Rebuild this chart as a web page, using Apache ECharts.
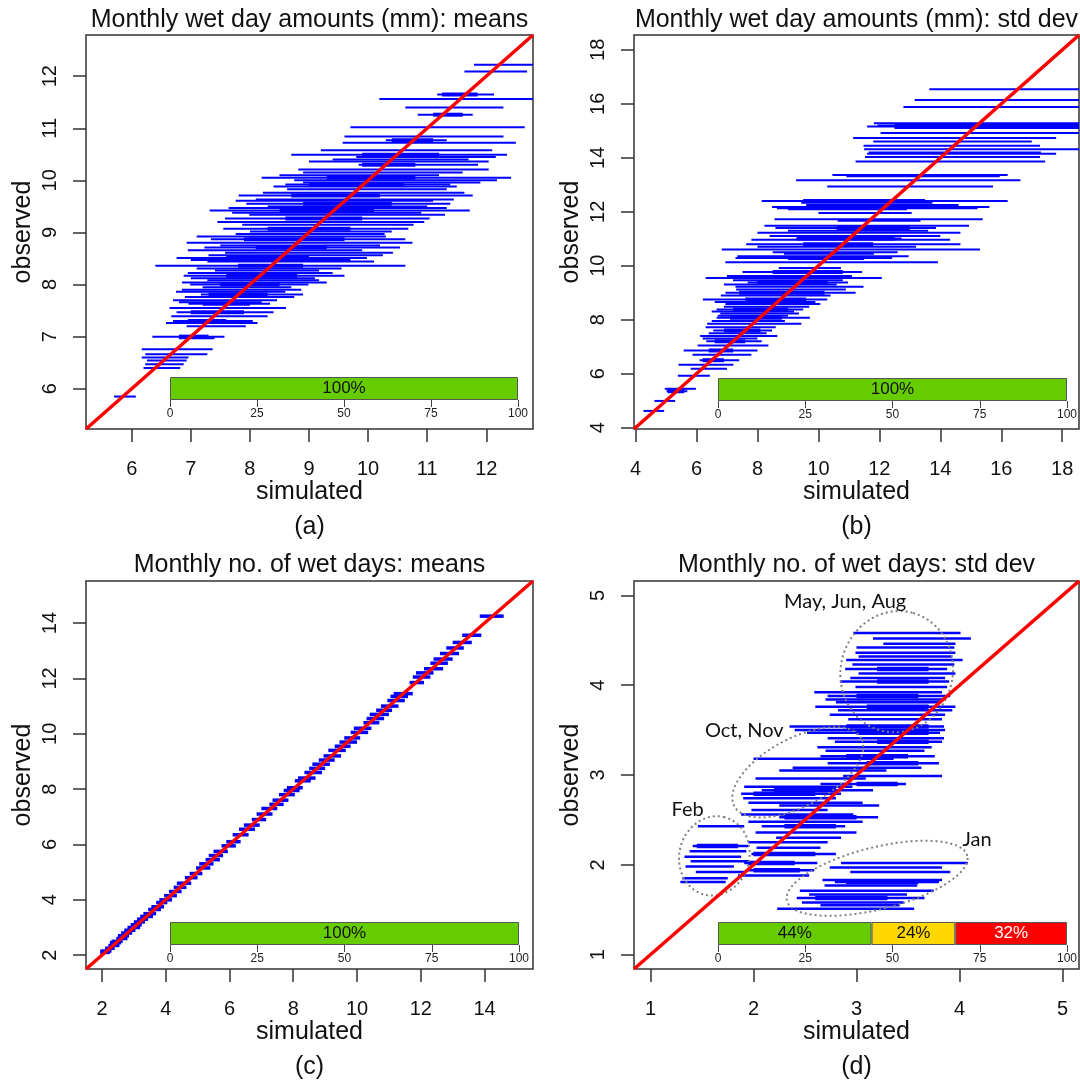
<!DOCTYPE html>
<html>
<head>
<meta charset="utf-8">
<script src="https://cdn.jsdelivr.net/npm/echarts@6/dist/echarts.min.js"></script>
<style>
  html, body { margin: 0; padding: 0; background: #fff; }
  #chart { width: 1080px; height: 1087px; }
</style>
</head>
<body>
<div id="chart"></div>
<script>
// each bar: [observed, simulated low, simulated high]
var barsA = [
  [12.22, 11.79, 13.0], [12.09, 11.63, 12.69], [11.65, 11.17, 12.13], [11.56, 10.19, 12.95],
  [11.40, 10.63, 12.29], [11.26, 10.84, 11.77], [11.02, 9.70, 12.65], [10.84, 9.60, 12.29],
  [10.77, 10.30, 11.33], [10.72, 9.57, 12.50], [10.58, 9.20, 12.10], [10.49, 8.70, 12.35],
  [10.45, 9.80, 12.16], [10.40, 9.40, 11.70], [10.36, 9.00, 12.04], [10.30, 9.84, 11.86],
  [10.21, 8.82, 12.04], [10.15, 8.90, 11.60], [10.10, 8.50, 11.20], [10.05, 8.20, 12.42],
  [10.00, 8.75, 12.18], [9.96, 8.90, 11.90], [9.92, 8.60, 11.39], [9.88, 8.40, 11.50],
  [9.83, 8.63, 11.33], [9.76, 8.22, 11.63], [9.71, 7.81, 11.77], [9.63, 8.10, 11.45],
  [9.61, 7.76, 11.10], [9.55, 7.94, 11.39], [9.50, 8.30, 11.00], [9.47, 7.64, 11.33],
  [9.42, 7.32, 11.72], [9.38, 7.70, 10.90], [9.34, 7.99, 11.30], [9.27, 7.58, 11.04],
  [9.20, 7.45, 10.95], [9.15, 7.87, 10.77], [9.07, 7.55, 10.68], [9.02, 8.00, 10.40],
  [8.97, 7.76, 10.28], [8.92, 7.10, 10.30], [8.87, 7.34, 10.63], [8.80, 6.93, 10.75],
  [8.75, 7.50, 10.20], [8.71, 7.23, 10.54], [8.66, 6.95, 9.90], [8.61, 7.58, 10.42],
  [8.56, 7.30, 10.25], [8.51, 6.76, 9.98], [8.47, 7.00, 9.70], [8.44, 7.28, 10.10],
  [8.36, 6.40, 10.63], [8.31, 7.10, 9.55], [8.27, 7.41, 9.17], [8.22, 6.95, 9.40],
  [8.17, 6.88, 9.60], [8.12, 7.00, 9.10], [8.08, 7.28, 9.17], [8.04, 6.85, 9.30],
  [8.00, 6.99, 8.99], [7.95, 7.20, 8.70], [7.90, 6.85, 8.87], [7.86, 6.75, 8.60],
  [7.81, 7.17, 8.90], [7.76, 6.90, 8.75], [7.70, 6.70, 8.46], [7.66, 6.80, 8.20],
  [7.63, 6.96, 8.34], [7.55, 6.64, 8.61], [7.47, 6.76, 8.40], [7.39, 6.67, 8.30],
  [7.30, 6.70, 8.05], [7.26, 6.58, 8.13], [7.20, 6.93, 7.93], [7.00, 6.35, 7.57],
  [6.97, 6.80, 7.40], [6.76, 6.17, 7.37], [6.66, 6.23, 7.28], [6.60, 6.17, 6.96],
  [6.54, 6.26, 6.93], [6.47, 6.23, 6.88], [6.40, 6.20, 6.82], [5.85, 5.70, 6.07]
];
// thicker inner ranges
var coreA = [
  [11.65, 11.25, 11.85], [11.26, 11.1, 11.6], [10.77, 10.4, 11.1], [10.49, 9.9, 11.2],
  [10.30, 9.9, 10.8], [10.05, 9.3, 10.8], [9.92, 9.0, 10.6], [9.71, 8.7, 10.2],
  [9.55, 8.9, 10.4], [9.42, 8.5, 10.1], [9.27, 8.6, 9.9], [9.07, 8.3, 9.7],
  [8.87, 7.9, 9.6], [8.71, 8.1, 9.3], [8.51, 7.6, 9.0], [8.36, 7.8, 8.9],
  [8.17, 7.6, 8.8], [8.00, 7.5, 8.5], [7.81, 7.3, 8.3], [7.63, 7.2, 8.0],
  [7.47, 7.0, 7.9], [7.30, 6.95, 7.6], [7.00, 6.8, 7.3]
];

var barsB = [
  [16.54, 13.64, 19.5], [16.14, 13.16, 19.5], [15.88, 12.79, 19.5], [15.28, 11.82, 19.5],
  [15.20, 11.94, 19.5], [15.16, 11.60, 19.5], [15.10, 12.50, 19.5], [14.92, 12.04, 19.5],
  [14.73, 11.14, 17.80], [14.60, 11.80, 17.00], [14.45, 11.48, 17.27], [14.32, 11.50, 18.70],
  [14.20, 11.65, 17.30], [14.15, 11.60, 17.80], [14.03, 11.53, 17.27], [13.86, 11.22, 17.44],
  [13.36, 10.46, 16.21], [13.32, 10.92, 15.95], [13.17, 9.27, 16.63], [12.94, 10.29, 15.73],
  [12.40, 8.14, 16.21], [12.33, 9.44, 13.74], [12.25, 9.60, 14.60], [12.18, 8.48, 15.61],
  [12.13, 8.64, 15.22], [11.95, 10.00, 13.06], [11.72, 8.56, 15.39], [11.67, 10.63, 13.35],
  [11.48, 8.23, 14.94], [11.40, 8.59, 13.86], [11.30, 9.00, 13.60], [11.22, 8.00, 14.66],
  [11.10, 8.40, 14.00], [11.01, 9.27, 12.73], [10.96, 7.80, 14.32], [10.80, 7.63, 14.66],
  [10.70, 8.00, 13.20], [10.60, 6.83, 15.30], [10.50, 8.50, 12.60], [10.44, 8.87, 11.82],
  [10.35, 7.34, 12.96], [10.29, 7.28, 12.42], [10.13, 6.95, 13.92], [9.92, 8.70, 10.74],
  [9.77, 7.51, 11.43], [9.62, 7.00, 11.10], [9.55, 6.30, 12.08], [9.46, 7.20, 10.80],
  [9.38, 7.68, 10.97], [9.30, 6.90, 10.60], [9.22, 7.28, 11.48], [9.12, 7.30, 10.90],
  [9.00, 6.95, 11.22], [8.90, 6.80, 10.40], [8.75, 6.21, 10.29], [8.66, 6.60, 9.90],
  [8.58, 6.95, 10.06], [8.48, 6.90, 9.70], [8.38, 6.66, 9.50], [8.30, 6.50, 9.20],
  [8.23, 6.78, 9.36], [8.15, 6.70, 9.00], [8.07, 6.66, 9.72], [7.95, 6.50, 8.90],
  [7.85, 6.35, 9.44], [7.72, 6.30, 8.60], [7.60, 6.55, 8.48], [7.50, 6.40, 8.30],
  [7.40, 6.12, 8.65], [7.30, 6.20, 8.00], [7.20, 6.32, 8.14], [7.04, 6.04, 8.36],
  [6.86, 5.58, 8.00], [6.70, 5.87, 7.80], [6.50, 6.10, 7.40], [6.33, 5.41, 7.21],
  [6.18, 5.81, 7.00], [5.92, 5.39, 6.44], [5.44, 4.96, 5.98], [5.35, 5.02, 5.70],
  [4.99, 4.62, 5.30], [4.62, 4.26, 4.94]
];
var coreB = [
  [15.20, 12.5, 19.5], [12.40, 9.5, 13.5], [12.13, 9.0, 12.9], [11.40, 10.6, 13.0],
  [11.01, 9.3, 12.5], [10.80, 9.5, 11.8], [10.29, 9.0, 11.5], [9.77, 8.5, 10.8],
  [9.38, 8.0, 10.3], [9.00, 7.4, 10.2], [8.75, 7.6, 9.6], [8.38, 7.2, 9.0],
  [8.07, 7.1, 8.8], [7.60, 6.9, 8.1], [7.20, 6.6, 7.6], [6.86, 6.4, 7.2],
  [6.50, 6.2, 6.9], [5.35, 5.05, 5.6]
];

var barsC = [
  [14.25, 13.85, 14.6], [13.56, 13.3, 13.9], [13.3, 13.0, 13.6], [13.1, 12.8, 13.35],
  [12.9, 12.6, 13.2], [12.7, 12.4, 13.0], [12.55, 12.3, 12.85], [12.35, 12.1, 12.7],
  [12.2, 11.85, 12.4], [12.05, 11.75, 12.3], [11.85, 11.65, 12.1], [11.45, 11.15, 11.75],
  [11.35, 11.05, 11.6], [11.2, 10.95, 11.5], [11.0, 10.75, 11.3], [10.85, 10.6, 11.1],
  [10.7, 10.4, 11.0], [10.55, 10.3, 10.85], [10.4, 10.2, 10.7], [10.2, 9.9, 10.45],
  [10.05, 9.8, 10.35], [9.85, 9.6, 10.1], [9.7, 9.45, 10.0], [9.55, 9.3, 9.8],
  [9.4, 9.1, 9.65], [9.2, 8.95, 9.5], [9.05, 8.8, 9.3], [8.9, 8.6, 9.15],
  [8.75, 8.5, 9.0], [8.6, 8.35, 8.9], [8.4, 8.15, 8.7], [8.3, 8.05, 8.55],
  [8.05, 7.8, 8.3], [7.95, 7.7, 8.2], [7.8, 7.55, 8.05], [7.6, 7.35, 7.85],
  [7.45, 7.25, 7.7], [7.3, 7.0, 7.5], [7.1, 6.85, 7.35], [6.9, 6.7, 7.15],
  [6.7, 6.45, 6.95], [6.55, 6.3, 6.8], [6.35, 6.1, 6.6], [6.1, 5.9, 6.35],
  [5.95, 5.75, 6.2], [5.75, 5.5, 5.95], [5.6, 5.35, 5.8], [5.45, 5.25, 5.7],
  [5.3, 5.05, 5.5], [5.15, 4.95, 5.4], [4.95, 4.75, 5.15], [4.8, 4.6, 5.0],
  [4.6, 4.35, 4.8], [4.45, 4.25, 4.65], [4.3, 4.1, 4.5], [4.15, 3.95, 4.35],
  [4.0, 3.8, 4.2], [3.9, 3.7, 4.05], [3.75, 3.55, 3.95], [3.65, 3.45, 3.85],
  [3.5, 3.3, 3.7], [3.4, 3.2, 3.6], [3.3, 3.1, 3.45], [3.2, 3.0, 3.35],
  [3.1, 2.9, 3.25], [3.0, 2.8, 3.2], [2.9, 2.7, 3.05], [2.8, 2.6, 2.95],
  [2.7, 2.5, 2.85], [2.6, 2.45, 2.8], [2.5, 2.3, 2.65], [2.45, 2.25, 2.6],
  [2.35, 2.2, 2.55], [2.25, 2.1, 2.4], [2.15, 1.95, 2.3], [2.1, 1.95, 2.25]
];
var coreC = [];

var barsD = [
  [4.58, 2.97, 4.01], [4.52, 3.16, 4.11], [4.46, 3.26, 3.96], [4.42, 3.00, 3.95],
  [4.36, 2.99, 3.96], [4.32, 3.02, 3.93], [4.28, 2.90, 4.03], [4.23, 2.96, 3.95],
  [4.18, 2.89, 3.88], [4.13, 3.02, 3.96], [4.08, 2.94, 3.86], [4.04, 2.84, 3.90],
  [3.98, 2.99, 3.88], [3.92, 2.59, 3.83], [3.88, 2.72, 3.91], [3.84, 2.70, 3.85],
  [3.81, 2.80, 3.80], [3.76, 2.60, 3.96], [3.72, 2.82, 3.93], [3.67, 2.74, 3.86],
  [3.62, 2.92, 3.83], [3.54, 2.35, 3.85], [3.50, 2.40, 3.86], [3.47, 2.52, 3.81],
  [3.41, 2.72, 3.85], [3.37, 2.79, 3.83], [3.31, 2.62, 3.73], [3.27, 2.70, 3.66],
  [3.21, 2.65, 3.76], [3.18, 2.00, 3.36], [3.13, 2.72, 3.80], [3.08, 2.38, 3.63],
  [3.05, 2.25, 3.29], [2.99, 2.87, 3.83], [2.96, 2.02, 3.09], [2.90, 2.65, 3.48],
  [2.87, 1.91, 2.96], [2.83, 2.08, 3.16], [2.79, 1.88, 2.85], [2.74, 1.90, 2.80],
  [2.69, 1.95, 3.06], [2.66, 2.25, 3.22], [2.61, 1.98, 2.72], [2.56, 1.88, 2.97],
  [2.53, 2.25, 3.21], [2.48, 1.95, 3.06], [2.43, 1.46, 1.91], [2.43, 2.08, 2.89],
  [2.36, 2.02, 3.00], [2.30, 2.22, 2.85], [2.25, 1.95, 2.72], [2.21, 1.41, 1.95],
  [2.19, 2.03, 2.65], [2.15, 1.38, 1.93], [2.12, 1.98, 2.80], [2.09, 1.33, 1.88],
  [2.04, 1.39, 1.95], [2.02, 1.91, 2.62], [1.98, 1.34, 1.81], [1.94, 1.95, 2.59],
  [1.92, 1.44, 1.91], [1.88, 1.85, 2.54], [1.85, 1.31, 1.75], [1.81, 1.29, 1.73],
  [2.02, 2.85, 4.08], [1.97, 2.74, 3.83], [1.92, 2.94, 3.91], [1.83, 2.67, 3.83],
  [1.81, 2.79, 3.80], [1.77, 2.69, 3.59], [1.71, 2.45, 3.75], [1.67, 2.54, 3.49],
  [1.63, 2.42, 3.66], [1.58, 2.47, 3.46], [1.55, 2.65, 3.42], [1.51, 2.23, 3.56]
];
var coreD = [
  [4.18, 3.2, 3.7], [4.04, 3.2, 3.7], [3.88, 3.0, 3.6], [3.76, 3.1, 3.7],
  [3.54, 2.9, 3.7], [3.47, 3.0, 3.7], [3.37, 3.2, 3.7], [3.21, 2.9, 3.5],
  [3.13, 3.1, 3.6], [2.90, 3.0, 3.4], [2.83, 2.2, 2.8], [2.79, 2.0, 2.6],
  [2.53, 2.3, 3.0], [2.43, 2.3, 2.8], [2.21, 1.45, 1.85], [2.12, 2.0, 2.6],
  [2.02, 1.95, 2.4], [1.94, 2.0, 2.45], [1.81, 2.9, 3.6], [1.63, 2.6, 3.3]
];

// axis tick labels
var ticksA = [6, 7, 8, 9, 10, 11, 12];
var ticksB = [4, 6, 8, 10, 12, 14, 16, 18];
var ticksC = [2, 4, 6, 8, 10, 12, 14];
var ticksD = [1, 2, 3, 4, 5];

// share of months inside / near / outside the simulated range (%)
var pctA = [100];
var pctB = [100];
var pctC = [100];
var pctD = [44, 24, 32];

var segColors = ['#66cc00', '#ffd700', '#ff0000'];
var segText = ['#111', '#111', '#fff'];

// dotted ellipse notes on panel (d): centre in data units, radii in px
var notes = [
  {label: 'May, Jun, Aug', cx: 3.39, cy: 4.15, rx: 61, ry: 56, rot: 75, lx: 2.89, ly: 4.93},
  {label: 'Oct, Nov', cx: 2.43, cy: 3.03, rx: 72, ry: 34, rot: 28, lx: 1.91, ly: 3.50},
  {label: 'Feb', cx: 1.62, cy: 2.10, rx: 40, ry: 35, rot: 75, lx: 1.36, ly: 2.62},
  {label: 'Jan', cx: 3.20, cy: 1.85, rx: 93, ry: 31, rot: 14, lx: 4.17, ly: 2.28}
];

var FONT = 'Liberation Sans, Arial, sans-serif';

var panels = [
  {title: 'Monthly wet day amounts (mm): means', tag: '(a)', bars: barsA, core: coreA, lw: 2,
   lim: [5.227, 12.79], ticks: ticksA, pct: pctA,
   grid: {left: 86, top: 35, width: 447, height: 394}, pbar: {left: 170, top: 377, width: 348, height: 23},
   titleTop: 8, tagTop: 515},
  {title: 'Monthly wet day amounts (mm): std dev', tag: '(b)', bars: barsB, core: coreB, lw: 2,
   lim: [3.95, 18.55], ticks: ticksB, pct: pctB,
   grid: {left: 634, top: 35, width: 445, height: 394}, pbar: {left: 718, top: 378, width: 349, height: 23},
   titleTop: 8, tagTop: 515},
  {title: 'Monthly no. of wet days: means', tag: '(c)', bars: barsC, core: coreC, lw: 3.5,
   lim: [1.5, 15.52], ticks: ticksC, pct: pctC,
   grid: {left: 86, top: 581, width: 447, height: 388}, pbar: {left: 170, top: 922, width: 349, height: 23},
   titleTop: 553, tagTop: 1055},
  {title: 'Monthly no. of wet days: std dev', tag: '(d)', bars: barsD, core: coreD, lw: 2.5,
   lim: [0.84, 5.16], ticks: ticksD, pct: pctD,
   grid: {left: 634, top: 581, width: 445, height: 388}, pbar: {left: 718, top: 922, width: 349, height: 23},
   titleTop: 553, tagTop: 1055}
];

function hbar(width) {
  return function (params, api) {
    var cs = params.coordSys;
    var y = api.value(0);
    var a = api.coord([api.value(1), y]);
    var b = api.coord([api.value(2), y]);
    var x1 = Math.max(a[0], cs.x);
    var x2 = Math.min(b[0], cs.x + cs.width);
    return {
      type: 'line',
      shape: {x1: x1, y1: a[1], x2: x2, y2: a[1]},
      style: {stroke: '#0000ff', lineWidth: width}
    };
  };
}

function noteItem(params, api) {
  var n = notes[params.dataIndex];
  var c = api.coord([n.cx, n.cy]);
  var r = n.rot * Math.PI / 180;
  var pts = [];
  for (var k = 0; k <= 90; k++) {
    var t = k / 90 * Math.PI * 2;
    var ex = n.rx * Math.cos(t), ey = n.ry * Math.sin(t);
    pts.push([c[0] + ex * Math.cos(r) - ey * Math.sin(r), c[1] - (ex * Math.sin(r) + ey * Math.cos(r))]);
  }
  var lp = api.coord([n.lx, n.ly]);
  return {
    type: 'group',
    children: [
      {type: 'polyline', shape: {points: pts},
       style: {stroke: '#808080', lineWidth: 2, lineDash: [2, 3], fill: null}},
      {type: 'text', x: lp[0], y: lp[1],
       style: {text: n.label, fontSize: 20, fontFamily: 'Lato, Noto Sans, sans-serif', fill: '#111',
               align: 'center', verticalAlign: 'middle'}}
    ]
  };
}

var option = {
  animation: false,
  backgroundColor: '#fff',
  textStyle: {fontFamily: FONT},
  title: [],
  grid: [],
  xAxis: [],
  yAxis: [],
  series: []
};

panels.forEach(function (p, i) {
  var g = 2 * i, gb = 2 * i + 1;
  var cx = p.grid.left + p.grid.width / 2;

  option.title.push({text: p.title, left: cx, top: p.titleTop, textAlign: 'center', padding: 0,
    textStyle: {fontSize: 25, fontWeight: 'normal', color: '#111', fontFamily: FONT}});
  option.title.push({text: p.tag, left: cx, top: p.tagTop, textAlign: 'center', padding: 0,
    textStyle: {fontSize: 25, fontWeight: 'normal', color: '#111', fontFamily: FONT}});

  option.grid.push(Object.assign({show: true, borderColor: '#333', borderWidth: 1.5,
    backgroundColor: 'transparent', outerBoundsMode: 'none'}, p.grid));
  option.grid.push(Object.assign({outerBoundsMode: 'none'}, p.pbar));

  option.xAxis.push({
    gridIndex: g, type: 'value', min: p.lim[0], max: p.lim[1],
    name: 'simulated', nameLocation: 'middle', nameGap: 49,
    nameTextStyle: {fontSize: 25, color: '#111', fontFamily: FONT},
    axisLine: {show: false}, splitLine: {show: false},
    axisTick: {show: true, length: 13, lineStyle: {color: '#333', width: 1.5}, customValues: p.ticks},
    axisLabel: {customValues: p.ticks, fontSize: 20, margin: 30, color: '#111', fontFamily: FONT}
  });
  option.yAxis.push({
    gridIndex: g, type: 'value', min: p.lim[0], max: p.lim[1],
    name: 'observed', nameLocation: 'middle', nameGap: 50,
    nameTextStyle: {fontSize: 25, color: '#111', fontFamily: FONT},
    axisLine: {show: false}, splitLine: {show: false},
    axisTick: {show: true, length: 13, lineStyle: {color: '#333', width: 1.5}, customValues: p.ticks},
    axisLabel: {customValues: p.ticks, fontSize: 20, margin: 26, rotate: 90, color: '#111', fontFamily: FONT}
  });

  option.xAxis.push({
    gridIndex: gb, type: 'value', min: 0, max: 100, interval: 25,
    axisLine: {show: false}, splitLine: {show: false},
    axisTick: {show: true, length: 7, lineStyle: {color: '#444'}},
    axisLabel: {fontSize: 12, margin: 8, color: '#222', fontFamily: FONT}
  });
  option.yAxis.push({gridIndex: gb, type: 'category', data: ['share'], show: false});

  option.series.push({
    type: 'custom', xAxisIndex: g, yAxisIndex: g, renderItem: hbar(p.lw),
    encode: {x: [1, 2], y: 0}, data: p.bars, z: 2, silent: true
  });
  if (p.core.length) {
    option.series.push({
      type: 'custom', xAxisIndex: g, yAxisIndex: g, renderItem: hbar(p.lw + 2),
      encode: {x: [1, 2], y: 0}, data: p.core, z: 2, silent: true
    });
  }
  option.series.push({
    type: 'line', xAxisIndex: g, yAxisIndex: g, symbol: 'none', silent: true, z: 5,
    data: [[p.lim[0], p.lim[0]], [p.lim[1], p.lim[1]]],
    lineStyle: {color: '#ff0000', width: 3.5}
  });

  p.pct.forEach(function (v, k) {
    option.series.push({
      type: 'bar', xAxisIndex: gb, yAxisIndex: gb, stack: 'share' + i, barWidth: '100%',
      data: [v], silent: true, z: 6,
      itemStyle: {color: segColors[k], borderColor: '#555', borderWidth: 1},
      label: {show: true, position: 'inside', formatter: '{c}%', fontSize: 17,
              color: segText[k], fontFamily: FONT}
    });
  });

  if (i === 3) {
    option.series.push({
      type: 'custom', xAxisIndex: g, yAxisIndex: g, renderItem: noteItem, z: 4, silent: true,
      data: notes.map(function (n) { return [n.cx, n.cy]; })
    });
  }
});

var chart = echarts.init(document.getElementById('chart'));
chart.setOption(option);
</script>
</body>
</html>
